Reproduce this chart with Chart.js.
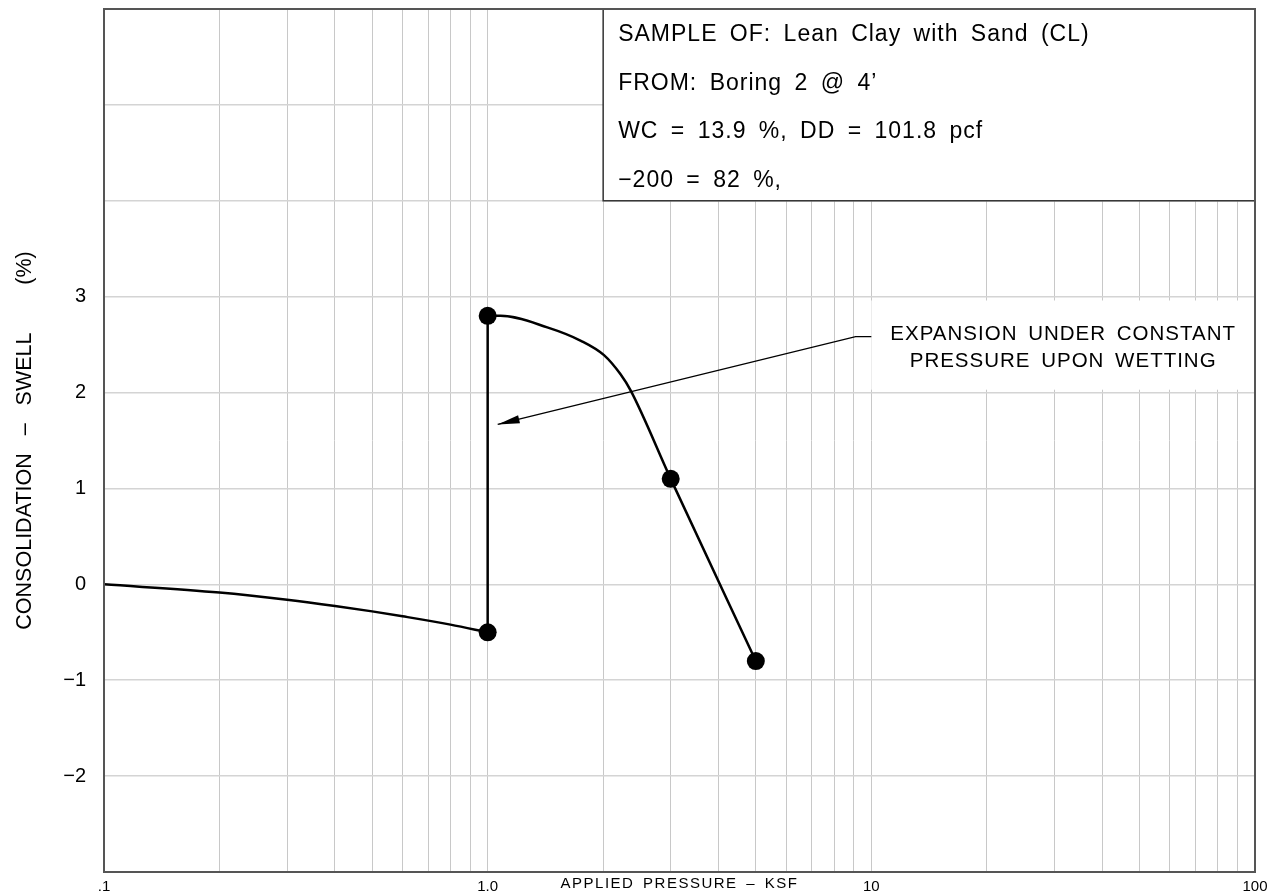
<!DOCTYPE html>
<html>
<head>
<meta charset="utf-8">
<script src="https://cdn.jsdelivr.net/npm/chart.js@4.4.1/dist/chart.umd.min.js"></script>
<style>
  body { margin: 0; background: #fff; }
  canvas { display: block; }
</style>
</head>
<body>
<canvas id="chart" width="1279" height="896"></canvas>
<script>
// loading before wetting
const loadPressure = [0.1, 0.2, 0.3, 0.4, 0.5, 0.6, 0.8, 1.0];
const loadSwell = [0, -0.085, -0.16, -0.225, -0.282, -0.333, -0.42, -0.5];

// wetting at constant pressure
const wetPressure = [1.0, 1.0];
const wetSwell = [-0.5, 2.8];

// loading after wetting
const afterPressure = [1.0, 1.08, 1.43, 1.75, 2.01, 2.22, 2.36, 3.0, 5.0];
const afterSwell = [2.8, 2.8, 2.68, 2.54, 2.39, 2.19, 2.02, 1.1, -0.8];

// measured readings
const testPressure = [1.0, 1.0, 3.0, 5.0];
const testSwell = [-0.5, 2.8, 1.1, -0.8];

const xLabelValues = [0.1, 1, 10, 100];
const xLabels = ['.1', '1.0', '10', '100'];
const yLabelValues = [-2, -1, 0, 1, 2, 3];

const sampleInfo = [
  'SAMPLE OF: Lean Clay with Sand (CL)',
  'FROM: Boring 2 @ 4\u2019',
  'WC = 13.9 %, DD = 101.8 pcf',
  '\u2212200 = 82 %,'
];
const noteLines = ['EXPANSION UNDER CONSTANT', 'PRESSURE UPON WETTING'];

const FONT = '"Liberation Sans", Arial, sans-serif';

// gridlines at 1..9 of every decade
const xGrid = [];
[0.1, 1, 10].forEach(d => {
  for (let k = 1; k < 10; k++) xGrid.push(d * k);
});
xGrid.push(100);

const pts = (xs, ys) => xs.map((x, i) => ({x: x, y: ys[i]}));

function text(ctx, str, px, py, size, align, ls, ws) {
  ctx.font = size + 'px ' + FONT;
  ctx.textAlign = align;
  ctx.textBaseline = 'middle';
  ctx.letterSpacing = (ls || 0) + 'px';
  ctx.wordSpacing = (ws || 0) + 'px';
  ctx.fillStyle = '#000';
  ctx.fillText(str, px, py);
  ctx.letterSpacing = '0px';
  ctx.wordSpacing = '0px';
}

const overlay = {
  id: 'overlay',
  beforeDatasetsDraw(chart) {
    const {ctx, scales: {x, y}} = chart;
    ctx.save();

    // sample info box
    const bx = x.getPixelForValue(2), by = y.getPixelForValue(6);
    const bw = x.getPixelForValue(100) - bx, bh = y.getPixelForValue(4) - by;
    ctx.fillStyle = '#fff';
    ctx.fillRect(bx, by, bw, bh);
    ctx.strokeStyle = '#333';
    ctx.lineWidth = 1.5;
    ctx.strokeRect(bx, by, bw, bh);
    sampleInfo.forEach((s, i) => {
      text(ctx, s, bx + 15, by + 26 + i * 48.5, 23, 'left', 1, 5);
    });

    // note box
    const nx = x.getPixelForValue(10), ny = y.getPixelForValue(2.96);
    const nw = x.getPixelForValue(100) - nx, nh = y.getPixelForValue(2.03) - ny;
    ctx.fillStyle = '#fff';
    ctx.fillRect(nx, ny, nw, nh);
    const cx = x.getPixelForValue(Math.sqrt(1000));
    noteLines.forEach((s, i) => {
      text(ctx, s, cx, y.getPixelForValue(2.61 - i * 0.285), 20.5, 'center', 1, 4);
    });
    ctx.restore();
  },
  afterDatasetsDraw(chart) {
    const {ctx, chartArea: a, scales: {x, y}} = chart;
    ctx.save();

    // leader with arrow
    const end = [x.getPixelForValue(10), y.getPixelForValue(2.583)];
    const elbow = [x.getPixelForValue(9.1), y.getPixelForValue(2.583)];
    const tip = [x.getPixelForValue(1.062), y.getPixelForValue(1.667)];
    ctx.strokeStyle = '#000';
    ctx.lineWidth = 1.3;
    ctx.beginPath();
    ctx.moveTo(end[0], end[1]);
    ctx.lineTo(elbow[0], elbow[1]);
    ctx.lineTo(tip[0], tip[1]);
    ctx.stroke();
    const ang = Math.atan2(elbow[1] - tip[1], elbow[0] - tip[0]);
    const len = 22, hw = 4;
    const bxp = tip[0] + len * Math.cos(ang), byp = tip[1] + len * Math.sin(ang);
    ctx.fillStyle = '#000';
    ctx.beginPath();
    ctx.moveTo(tip[0], tip[1]);
    ctx.lineTo(bxp - hw * Math.sin(ang), byp + hw * Math.cos(ang));
    ctx.lineTo(bxp + hw * Math.sin(ang), byp - hw * Math.cos(ang));
    ctx.closePath();
    ctx.fill();

    // frame
    ctx.strokeStyle = '#555';
    ctx.lineWidth = 2;
    ctx.strokeRect(a.left, a.top, a.right - a.left, a.bottom - a.top);

    // x axis title, between 1.0 and 10
    const tx = (x.getPixelForValue(1) + x.getPixelForValue(10)) / 2;
    text(ctx, 'APPLIED PRESSURE \u2013 KSF', tx, a.bottom + 12, 15, 'center', 1.5, 3);
    ctx.restore();
  }
};

const lineStyle = {
  showLine: true,
  borderColor: '#000',
  borderWidth: 2.5,
  pointRadius: 0,
  fill: false
};

new Chart(document.getElementById('chart'), {
  type: 'scatter',
  data: {
    datasets: [
      Object.assign({data: pts(loadPressure, loadSwell), cubicInterpolationMode: 'monotone'}, lineStyle),
      Object.assign({data: pts(wetPressure, wetSwell)}, lineStyle),
      Object.assign({data: pts(afterPressure, afterSwell), cubicInterpolationMode: 'monotone'}, lineStyle),
      {
        data: pts(testPressure, testSwell),
        showLine: false,
        pointRadius: 9,
        pointBackgroundColor: '#000',
        pointBorderWidth: 0
      }
    ]
  },
  options: {
    responsive: false,
    animation: false,
    layout: {padding: {top: 8, right: 24, left: 0, bottom: 0}},
    plugins: {legend: {display: false}, tooltip: {enabled: false}},
    scales: {
      x: {
        type: 'logarithmic',
        min: 0.1,
        max: 100,
        afterBuildTicks(axis) {
          axis.ticks = xGrid.map(v => ({value: v}));
        },
        afterFit(axis) {
          axis.height = 24;
          axis.paddingLeft = 0;
          axis.paddingRight = 0;
        },
        border: {display: false},
        grid: {color: '#c8c8c8', lineWidth: 1, drawTicks: false},
        ticks: {
          autoSkip: false,
          maxRotation: 0,
          padding: 6,
          color: '#000',
          font: {family: FONT, size: 15},
          callback(value) {
            const i = xLabelValues.findIndex(v => Math.abs(v - value) / v < 1e-6);
            return i >= 0 ? xLabels[i] : '';
          }
        }
      },
      y: {
        min: -3,
        max: 6,
        afterFit(axis) {
          axis.width = 104;
          axis.paddingTop = 0;
          axis.paddingBottom = 0;
        },
        border: {display: false},
        grid: {color: '#d4d4d4', lineWidth: 1.5, drawTicks: false},
        ticks: {
          stepSize: 1,
          padding: 18,
          color: '#000',
          font: {family: FONT, size: 20},
          callback(value) {
            if (!yLabelValues.includes(value)) return '';
            return value < 0 ? '\u2212' + Math.abs(value) : String(value);
          }
        },
        title: {
          display: true,
          text: 'CONSOLIDATION   \u2013   SWELL        (%)',
          color: '#000',
          font: {family: FONT, size: 21.5},
          padding: {top: 12, bottom: 0}
        }
      }
    }
  },
  plugins: [overlay]
});
</script>
</body>
</html>
